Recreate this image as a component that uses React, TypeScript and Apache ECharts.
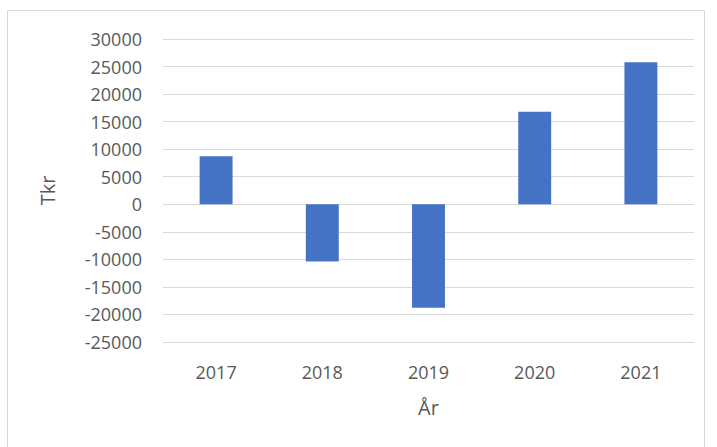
import React, { useEffect, useRef } from "react";
import * as echarts from "echarts";

const categories = ["2017", "2018", "2019", "2020", "2021"];
const values = [8700, -10400, -18800, 16800, 25800];
const yMin = -25000;
const yMax = 30000;
const yStep = 5000;
const xName = "År";
const yName = "Tkr";

export default function App() {
  const ref = useRef<HTMLDivElement>(null);
  useEffect(() => {
    document.body.style.margin = "0";
    const chart = echarts.init(ref.current!, null, { renderer: "svg" });
    const font = "Open Sans";
    const color = "#595959";
    chart.setOption({
      animation: false,
      backgroundColor: "#ffffff",
      graphic: [
        {
          type: "rect",
          shape: { x: 7.5, y: 10.5, width: 697, height: 460 },
          style: { fill: "none", stroke: "#d9d9d9", lineWidth: 1 },
          silent: true,
        },
      ],
      grid: { left: 163, right: 23, top: 39, bottom: 105 },
      xAxis: {
        type: "category",
        data: categories,
        axisLine: { show: false },
        axisTick: { show: false },
        axisLabel: { color, fontFamily: font, fontSize: 18, margin: 21 },
        name: xName,
        nameLocation: "middle",
        nameGap: 55,
        nameTextStyle: { color, fontFamily: font, fontSize: 20 },
      },
      yAxis: {
        type: "value",
        min: yMin,
        max: yMax,
        interval: yStep,
        axisLine: { show: false },
        axisTick: { show: false },
        axisLabel: {
          color,
          fontFamily: font,
          fontSize: 18,
          margin: 21,
          formatter: (v: number) => String(v),
        },
        splitLine: { lineStyle: { color: "#d9d9d9", width: 1 } },
        name: yName,
        nameLocation: "middle",
        nameGap: 106,
        nameTextStyle: { color, fontFamily: font, fontSize: 20 },
      },
      series: [
        {
          type: "bar",
          data: values,
          barWidth: "31%",
          itemStyle: { color: "#4472C4" },
        },
      ],
    });
    return () => chart.dispose();
  }, []);
  return <div ref={ref} style={{ width: 717, height: 447 }} />;
}
